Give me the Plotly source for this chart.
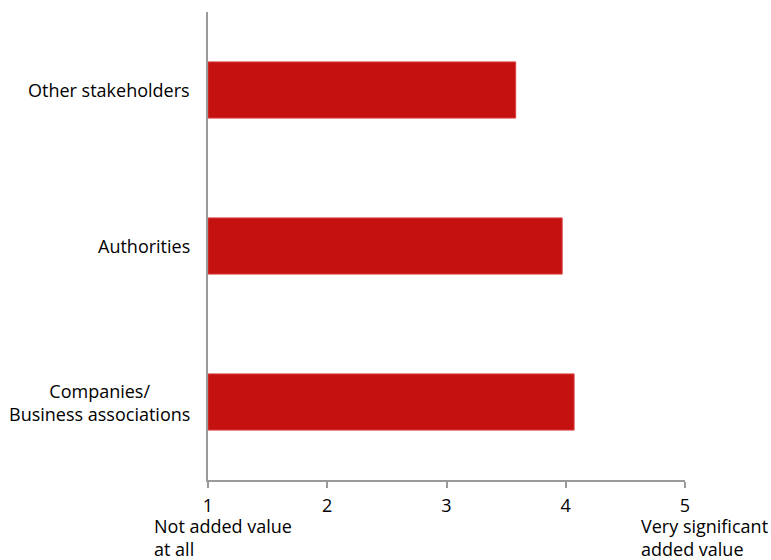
import plotly.graph_objects as go

# Average rating of added value by respondent group (scale 1-5)
groups = ["Companies/<br>Business associations", "Authorities", "Other stakeholders"]
scores = [4.07, 3.97, 3.58]
scale_ticks = [1, 2, 3, 4, 5]
scale_low_label = "Not added value<br>at all"
scale_high_label = "Very significant<br>added value"

FONT = "Open Sans"
FSIZE = 18
TEXT = "#000000"
RED = "#C61111"
AXIS = "#9A9A9A"

base = scale_ticks[0]

fig = go.Figure(
    go.Bar(
        y=groups,
        x=[s - base for s in scores],
        base=base,
        orientation="h",
        width=0.36,
        marker=dict(color=RED, line=dict(color="#D84040", width=1)),
        hoverinfo="skip",
    )
)

# Category labels: right-aligned block, each label centred within itself
for g in groups:
    fig.add_annotation(
        x=0, xref="paper", y=g, yref="y",
        text=g, showarrow=False,
        xanchor="right", yanchor="middle", align="center",
        xshift=-16,
        font=dict(family=FONT, size=FSIZE, color=TEXT),
    )

# Scale end descriptions below the tick numbers
fig.add_annotation(
    x=scale_ticks[0], xref="x", y=0, yref="paper",
    text=scale_low_label, showarrow=False,
    xanchor="left", yanchor="top", align="left",
    xshift=-56, yshift=-32,
    font=dict(family=FONT, size=FSIZE, color=TEXT),
)
fig.add_annotation(
    x=scale_ticks[-1], xref="x", y=0, yref="paper",
    text=scale_high_label, showarrow=False,
    xanchor="left", yanchor="top", align="left",
    xshift=-46, yshift=-32,
    font=dict(family=FONT, size=FSIZE, color=TEXT),
)

fig.update_layout(
    width=771, height=560,
    margin=dict(l=208, r=86, t=12, b=80),
    paper_bgcolor="white", plot_bgcolor="white",
    showlegend=False,
    font=dict(family=FONT, size=FSIZE, color=TEXT),
    xaxis=dict(
        range=[scale_ticks[0], scale_ticks[-1]],
        tickvals=scale_ticks,
        showgrid=False, zeroline=False,
        showline=True, linecolor=AXIS, linewidth=1.5,
        ticks="outside", ticklen=6, tickcolor=AXIS, tickwidth=1.5,
        ticklabelstandoff=3,
        tickfont=dict(family=FONT, size=FSIZE, color=TEXT),
    ),
    yaxis=dict(
        range=[-0.5, 2.5],
        showticklabels=False,
        showgrid=False, zeroline=False,
        showline=True, linecolor=AXIS, linewidth=1.5,
        ticks="",
    ),
)

fig.write_html("out.html")
